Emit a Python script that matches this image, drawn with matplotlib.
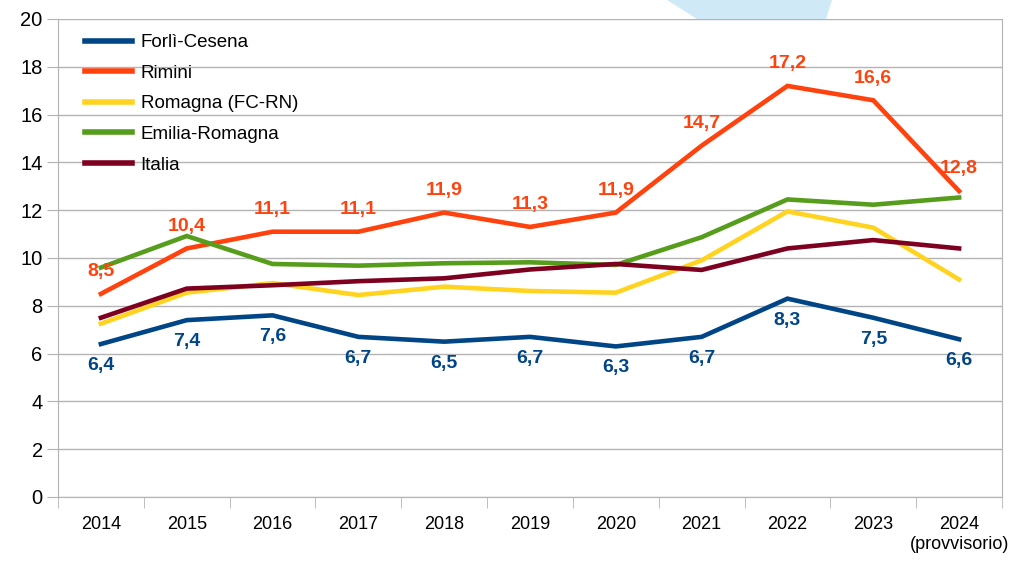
import matplotlib.pyplot as plt
from matplotlib.patches import Polygon

# Data
years = ["2014", "2015", "2016", "2017", "2018", "2019", "2020", "2021", "2022", "2023",
         "2024\n(provvisorio)"]
forli_cesena = [6.4, 7.4, 7.6, 6.7, 6.5, 6.7, 6.3, 6.7, 8.3, 7.5, 6.6]
rimini = [8.5, 10.4, 11.1, 11.1, 11.9, 11.3, 11.9, 14.7, 17.2, 16.6, 12.8]
romagna = [7.25, 8.55, 8.95, 8.45, 8.8, 8.62, 8.55, 9.9, 11.95, 11.27, 9.1]
emilia_romagna = [9.6, 10.92, 9.75, 9.68, 9.78, 9.82, 9.71, 10.87, 12.45, 12.23, 12.53]
italia = [7.5, 8.72, 8.86, 9.03, 9.15, 9.52, 9.75, 9.5, 10.4, 10.75, 10.4]

names = ["Forlì-Cesena", "Rimini", "Romagna (FC-RN)", "Emilia-Romagna", "Italia"]
colors = ["#004586", "#FF420E", "#FFD320", "#579D1C", "#7E0021"]

plt.rcParams['font.family'] = ["Liberation Sans", "DejaVu Sans"]

fig = plt.figure(figsize=(10.11, 5.62), dpi=100)
# light blue decoration at the top of the slide
fig.patches.append(Polygon([(667 / 1011, 1.0), (832 / 1011, 1.0), (826 / 1011, 1 - 19 / 562),
                            (697 / 1011, 1 - 19 / 562)], closed=True, transform=fig.transFigure,
                           facecolor="#CFE9F7", edgecolor="none", zorder=0))
ax = fig.add_axes([58 / 1011, 1 - 497 / 562, (1002 - 58) / 1011, (497 - 19) / 562])

x = list(range(len(years)))
series = [forli_cesena, rimini, romagna, emilia_romagna, italia]
for vals, name, c in zip(series, names, colors):
    ax.plot(x, vals, color=c, linewidth=3.3, label=name, solid_joinstyle="miter")

# data labels
for xi, v in zip(x, rimini):
    ax.annotate(f"{v:.1f}".replace(".", ","), (xi, v), xytext=(0, 16), textcoords="offset points",
                ha="center", va="center", color=colors[1], fontsize=14, fontweight="bold")
for xi, v in zip(x, forli_cesena):
    ax.annotate(f"{v:.1f}".replace(".", ","), (xi, v), xytext=(0, -15.5), textcoords="offset points",
                ha="center", va="center", color=colors[0], fontsize=14, fontweight="bold")

ax.set_xlim(-0.5, len(years) - 0.5)
ax.set_ylim(0, 20)
ax.set_yticks(range(0, 21, 2))
ax.set_xticks(x)
ax.set_xticklabels(years, fontsize=13)
ax.set_xticks([i - 0.5 for i in range(len(years) + 1)], minor=True)
ax.tick_params(axis="x", which="major", length=0, pad=14)
ax.tick_params(axis="x", which="minor", length=8, color="#b3b3b3")
ax.tick_params(axis="y", length=8, color="#b3b3b3", labelsize=14.5, pad=3)
ax.grid(axis="y", color="#b3b3b3", linewidth=1)
ax.set_axisbelow(True)
for s in ["left", "bottom", "right"]:
    ax.spines[s].set_color("#b3b3b3")
ax.spines["top"].set_visible(False)

leg = ax.legend(loc="upper left", bbox_to_anchor=(0.011, 1.004), frameon=False, fontsize=13.5,
                handlelength=2.5, labelspacing=0.72, handletextpad=0.45)
for line in leg.get_lines():
    line.set_linewidth(4)

fig.savefig("out.png", dpi=100)
